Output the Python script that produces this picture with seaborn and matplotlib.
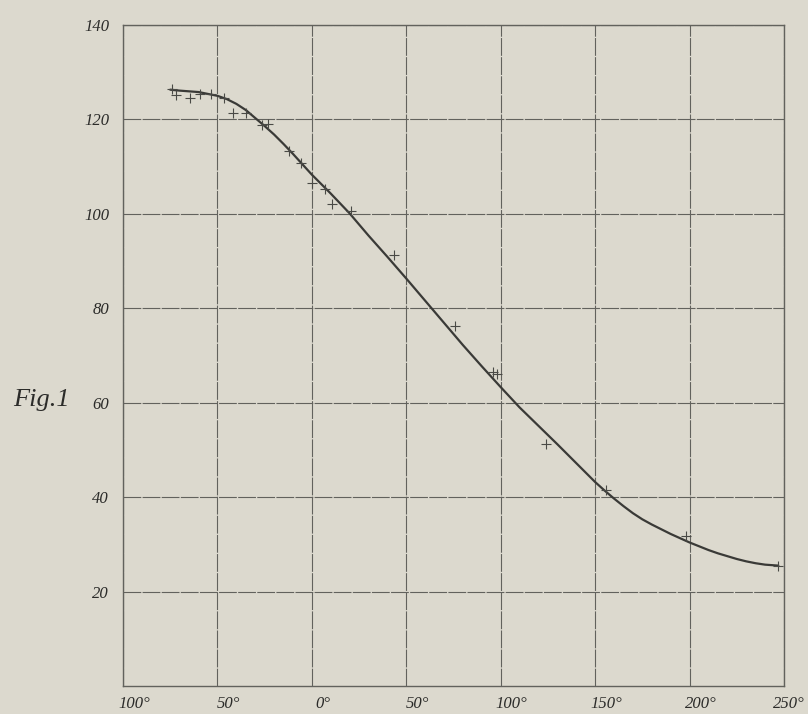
import matplotlib
matplotlib.use("Agg")
import matplotlib.pyplot as plt
import matplotlib.transforms as mtransforms
import seaborn as sns
import pandas as pd

# ---- data ----
curve_x = [-75, -70, -60, -55, -50, -45, -40, -35, -30, -25, -20, -15, -10, -5, 0, 5,
           10, 15, 20, 30, 40, 50, 60, 70, 80, 90, 100, 110, 120, 130, 140, 145,
           150, 155, 160, 165, 170, 175, 180, 185, 190, 195, 200, 205, 210, 215,
           220, 225, 230, 235, 240, 247]
curve_y = [126.3, 126.1, 125.8, 125.4, 125.0, 124.3, 123.3, 122.0, 120.3, 118.6,
           116.8, 114.8, 112.7, 110.5, 108.3, 106.3, 104.3, 102.2, 100.1, 95.4,
           90.9, 86.3, 81.6, 76.9, 72.2, 67.7, 63.3, 59.0, 55.1, 51.2, 47.2, 45.2,
           43.2, 41.4, 39.7, 38.1, 36.6, 35.3, 34.2, 33.2, 32.2, 31.3, 30.4, 29.6,
           28.8, 28.1, 27.5, 26.9, 26.4, 26.0, 25.7, 25.5]

obs_x = [-74.2, -72.1, -64.6, -59.3, -53.5, -46.5, -41.7, -34.7, -26.3, -23.0,
         -12.3, -5.8, 0.0, 6.8, 10.5, 20.5, 43.3, 76.0, 96.0, 98.0, 124.0, 156.0, 198.0, 247.0]
obs_y = [126.5, 125.2, 124.5, 125.4, 125.4, 124.5, 121.4, 121.4, 118.8, 119.0,
         113.4, 110.7, 106.5, 105.2, 102.1, 100.6, 91.2, 76.2, 66.5, 66.0, 51.2, 41.6, 31.7, 25.5]

x_ticks = [-100, -50, 0, 50, 100, 150, 200, 250]
x_tick_labels = ["100°", "50°", "0°", "50°", "100°", "150°", "200°", "250°"]
y_ticks = [20, 40, 60, 80, 100, 120, 140]
y_tick_labels = ["20", "40", "60", "80", "100", "120", "140"]
fig_label = "Fig.1"

# ---- style ----
paper = "#dcd9ce"
ink = "#3a3a37"
grid_c = "#62625d"

sns.set_theme(style="white")
plt.rcParams["font.family"] = ["Liberation Serif", "DejaVu Serif"]

fig = plt.figure(figsize=(8.08, 7.14), dpi=100, facecolor=paper)
ax = fig.add_axes([123 / 808, 1 - 686 / 714, 661 / 808, 661 / 714])
ax.set_facecolor(paper)

curve_df = pd.DataFrame({"t": curve_x, "v": curve_y})
obs_df = pd.DataFrame({"t": obs_x, "v": obs_y})

sns.lineplot(data=curve_df, x="t", y="v", ax=ax, color=ink, linewidth=1.6,
             sort=False, estimator=None, zorder=3)
sns.scatterplot(data=obs_df, x="t", y="v", ax=ax, marker="+", s=42,
                color="#4a4a46", linewidth=0.8, zorder=4)

ax.set_xlim(-100, 250)
ax.set_ylim(0, 140)
ax.set_xticks(x_ticks)
ax.set_yticks(y_ticks)
ax.set_xticklabels(x_tick_labels, fontstyle="italic", fontsize=12, color="#2b2b29")
ax.set_yticklabels(y_tick_labels, fontstyle="italic", fontsize=12, color="#2b2b29")
ax.tick_params(axis="both", length=0)
ax.tick_params(axis="x", pad=7)
ax.tick_params(axis="y", pad=10)

labels = ax.get_xticklabels()
for i, lbl in enumerate(labels):
    dx = 0.05 if i == len(labels) - 1 else 0.11
    lbl.set_transform(lbl.get_transform() + mtransforms.ScaledTranslation(dx, 0, fig.dpi_scale_trans))

ax.grid(True, color=grid_c, linewidth=0.8, linestyle=(0, (16, 1.2)))
ax.set_axisbelow(True)
for sp in ax.spines.values():
    sp.set_visible(True)
    sp.set_color(grid_c)
    sp.set_linewidth(1.0)

ax.set_xlabel("")
ax.set_ylabel("")

fig.text(41 / 808, 1 - 400 / 714, fig_label, fontsize=19, fontstyle="italic",
         color="#2b2b29", ha="center", va="center")

fig.savefig("out.png", dpi=100, facecolor=paper)
